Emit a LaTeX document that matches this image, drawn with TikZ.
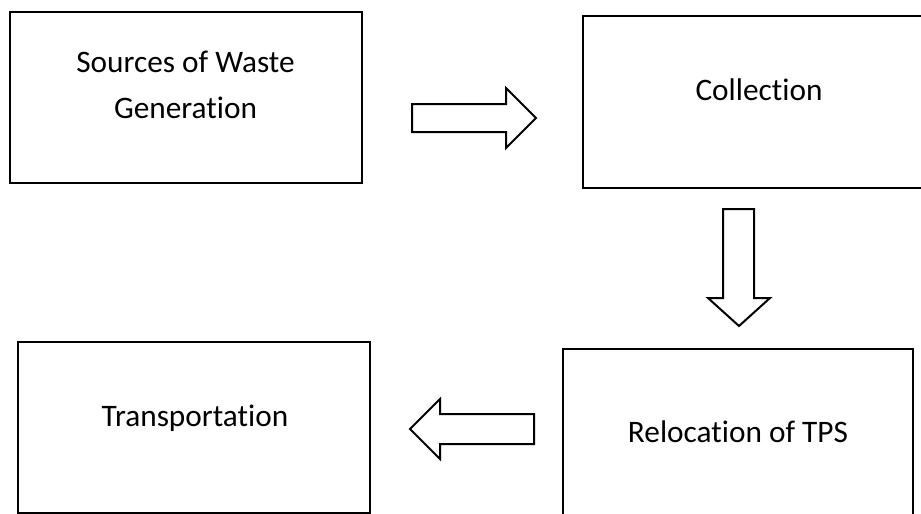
\documentclass[tikz,border=0pt]{standalone}
\usepackage{fontspec}
\setmainfont[Ligatures=NoCommon]{Carlito}
\begin{document}
\begin{tikzpicture}[x=1pt,y=-1pt,
  box/.style={draw=black, line width=2.6pt, fill=white, inner sep=0pt, outer sep=0pt},
  lbl/.style={font=\fontsize{31.3}{46}\selectfont, anchor=base, inner sep=0pt, text=black},
  blockarrow/.style={draw=black, line width=2pt, fill=white, line join=miter}]
\useasboundingbox (0,0) rectangle (921,514);
\clip (0,0) rectangle (921,514);
% boxes
\node[box, minimum width=352pt, minimum height=171pt] (src) at (186,97.5) {};
\node[box, minimum width=400pt, minimum height=172pt] (col) at (783,102) {};
\node[box, minimum width=352pt, minimum height=171pt] (tra) at (194,427.5) {};
\node[box, minimum width=350pt, minimum height=200pt] (rel) at (738,449) {};
% texts
\node[lbl] (srcA) at (185.5,72) {Sources of Waste};
\node[lbl] (srcB) at (185.5,118) {Generation};
\node[lbl] (colT) at (759,100) {Collection};
\node[lbl] (relT) at (738,442) {Relocation of TPS};
\node[lbl] (traT) at (195,426) {Transportation};
% block arrows
\draw[blockarrow] (412,104) -- (506,104) -- (506,88) -- (536,118) -- (506,148) -- (506,132) -- (412,132) -- cycle;
\draw[blockarrow] (723,209) -- (754,209) -- (754,298) -- (770,298) -- (739,326) -- (708,298) -- (723,298) -- cycle;
\draw[blockarrow] (534,414) -- (440,414) -- (440,399) -- (410,429) -- (440,459) -- (440,444) -- (534,444) -- cycle;
\end{tikzpicture}
\end{document}
